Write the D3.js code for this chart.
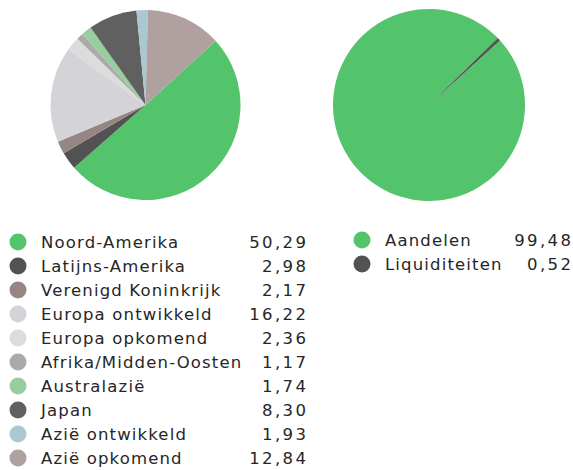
<!DOCTYPE html>
<html>
<head>
<meta charset="utf-8">
<script src="https://cdn.jsdelivr.net/npm/d3@7"></script>
<style>
  body { margin: 0; background: #fff; }
  text { font-family: "DejaVu Sans", sans-serif; fill: #262626; }
</style>
</head>
<body>
<svg id="chart" width="573" height="470"></svg>
<script>
// Regio's
const regionNames = ["Noord-Amerika", "Latijns-Amerika", "Verenigd Koninkrijk", "Europa ontwikkeld",
    "Europa opkomend", "Afrika/Midden-Oosten", "Australazië", "Japan", "Azië ontwikkeld", "Azië opkomend"];
const regionValues = [50.29, 2.98, 2.17, 16.22, 2.36, 1.17, 1.74, 8.30, 1.93, 12.84];
const regionColors = ["#54c46c", "#525252", "#968683", "#d3d3d8", "#dcdcdc", "#aaaaaa", "#99cc9f", "#606060", "#a9c8cf", "#b0a0a0"];

// Activaklassen
const assetNames = ["Aandelen", "Liquiditeiten"];
const assetValues = [99.48, 0.52];
const assetColors = ["#54c46c", "#525252"];

const svg = d3.select('#chart');
const fmt = v => v.toFixed(2).replace('.', ',');
const startAngle = 47.7 * Math.PI / 180;

function drawPie(cx, cy, r, values, colors) {
    const pie = d3.pie().sort(null)
        .startAngle(startAngle)
        .endAngle(startAngle + 2 * Math.PI);
    const arc = d3.arc().innerRadius(0).outerRadius(r);
    svg.append('g')
        .attr('transform', `translate(${cx}, ${cy})`)
        .selectAll('path')
        .data(pie(values))
        .join('path')
            .attr('d', arc)
            .style('fill', (d, i) => colors[i]);
}

function drawLegend(x, y, valueX, names, values, colors) {
    const rowH = 24;
    const yScale = d3.scaleLinear().domain([0, 1]).range([y, y + rowH]);
    const g = svg.append('g');
    const rows = g.selectAll('g')
        .data(names)
        .join('g')
            .attr('transform', (d, i) => `translate(0, ${yScale(i)})`);
    rows.append('circle')
        .attr('cx', x)
        .attr('cy', 0)
        .attr('r', 8.5)
        .style('fill', (d, i) => colors[i]);
    rows.append('text')
        .attr('x', x + 23)
        .attr('y', 0)
        .attr('dy', '0.35em')
        .style('font-size', '16.5px')
        .style('letter-spacing', '1.15px')
        .text(d => d);
    // trailing letter-spacing is added after the last glyph, so shift right by that amount
    rows.append('text')
        .attr('x', valueX + 2.4)
        .attr('y', 0)
        .attr('dy', '0.35em')
        .attr('text-anchor', 'end')
        .style('font-size', '16.5px')
        .style('letter-spacing', '2.4px')
        .text((d, i) => fmt(values[i]));
}

drawPie(145.5, 105, 95, regionValues, regionColors);
drawPie(429, 105, 96, assetValues, assetColors);

drawLegend(18, 242, 306, regionNames, regionValues, regionColors);
drawLegend(362, 240, 571, assetNames, assetValues, assetColors);
</script>
</body>
</html>
